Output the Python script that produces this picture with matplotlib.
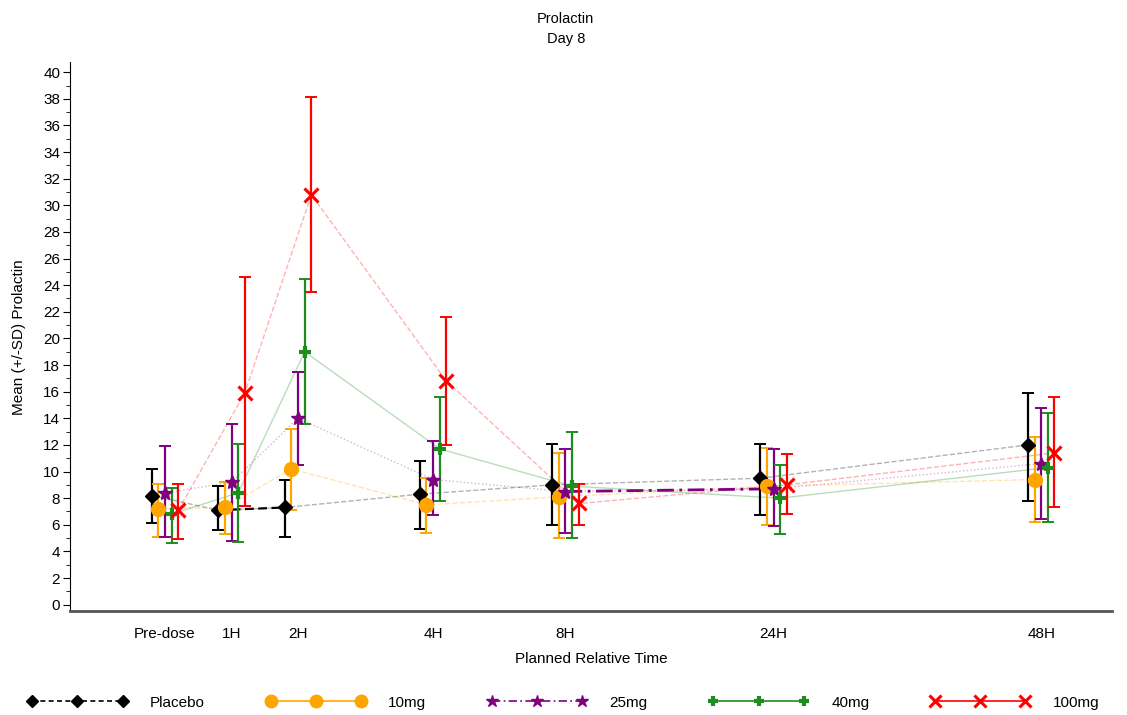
import numpy as np
import matplotlib.pyplot as plt
from matplotlib.ticker import MultipleLocator

plt.rcParams['font.family'] = ['Liberation Sans', 'DejaVu Sans']

time_labels = ['Pre-dose', '1H', '2H', '4H', '8H', '24H', '48H']
time_pos = [0, 1, 2, 4.03, 6.02, 9.15, 13.17]
    # x placement of the planned times on the axis

groups = ['Placebo', '10mg', '25mg', '40mg', '100mg']

mean_placebo = [8.2, 7.1, 7.3, 8.3, 9.0, 9.5, 12.0]
upper_placebo = [10.2, 8.9, 9.4, 10.8, 12.1, 12.1, 15.9]
lower_placebo = [6.1, 5.6, 5.1, 5.7, 6.0, 6.7, 7.8]

mean_10mg = [7.2, 7.3, 10.2, 7.5, 8.1, 8.9, 9.4]
upper_10mg = [9.1, 9.2, 13.2, 9.5, 11.4, 11.8, 12.6]
lower_10mg = [5.1, 5.3, 7.1, 5.4, 5.0, 6.0, 6.2]

mean_25mg = [8.4, 9.2, 14.0, 9.4, 8.5, 8.7, 10.6]
upper_25mg = [11.9, 13.6, 17.5, 12.3, 11.7, 11.7, 14.8]
lower_25mg = [5.1, 4.8, 10.5, 6.7, 5.4, 5.9, 6.4]

mean_40mg = [6.8, 8.4, 19.0, 11.7, 8.9, 8.0, 10.3]
upper_40mg = [8.8, 12.1, 24.5, 15.6, 13.0, 10.5, 14.4]
lower_40mg = [4.6, 4.7, 13.6, 7.8, 5.0, 5.3, 6.2]

mean_100mg = [7.1, 15.9, 30.8, 16.8, 7.6, 9.0, 11.4]
upper_100mg = [9.1, 24.6, 38.1, 21.6, 9.1, 11.3, 15.6]
lower_100mg = [4.9, 7.4, 23.5, 12.0, 6.0, 6.8, 7.3]

means = [mean_placebo, mean_10mg, mean_25mg, mean_40mg, mean_100mg]
uppers = [upper_placebo, upper_10mg, upper_25mg, upper_40mg, upper_100mg]
lowers = [lower_placebo, lower_10mg, lower_25mg, lower_40mg, lower_100mg]

colors = ['black', '#FFA500', '#800080', '#1E8C1E', '#FF0000']
markers = ['D', 'o', '*', '+', 'x']
msizes = [7, 10, 10, 8, 10]
mews = [1, 1, 1, 3, 2.2]
styles = ['--', '--', ':', '-', '--']
legend_styles = [(0, (3, 2)), '-', (0, (5, 2, 1, 2)), '-', '-']
offsets = [-0.2, -0.1, 0.0, 0.1, 0.2]

fig = plt.figure(figsize=(11.27, 7.15), dpi=100)
ax = fig.add_axes([0.062, 0.145, 0.925, 0.768])

handles = []
for i in range(5):
    x = np.array(time_pos) + offsets[i]
    m = np.array(means[i])
    err = [m - np.array(lowers[i]), np.array(uppers[i]) - m]
    ax.plot(x, m, linestyle=styles[i], color=colors[i], alpha=0.3, linewidth=1, zorder=1)
        # faint connecting lines between the means
    ax.errorbar(x, m, yerr=err, fmt='none', ecolor=colors[i], elinewidth=1.6,
                capsize=4, capthick=1.4, zorder=2)
    ax.plot(x, m, linestyle='none', marker=markers[i], markersize=msizes[i],
            color=colors[i], markeredgewidth=mews[i], zorder=3)
    h, = ax.plot([], [], linestyle=legend_styles[i], color=colors[i], marker=markers[i],
                 markersize=msizes[i] - 1, markeredgewidth=mews[i], linewidth=1.2)
    handles.append(h)

# bold segments that show up in the original output
ax.plot([time_pos[1] - 0.2, time_pos[2] - 0.2], [mean_placebo[1], mean_placebo[2]],
        color='black', linestyle=(0, (4, 2)), linewidth=1.6, zorder=1.5)
ax.plot([time_pos[4], time_pos[5]], [mean_25mg[4], mean_25mg[5]],
        color='#800080', linestyle=(0, (6, 2, 1, 2)), linewidth=2, zorder=1.5)

ax.set_xlim(-1.43, 14.24)
ax.set_ylim(-0.5, 40.75)
ax.set_xticks(time_pos)
ax.set_xticklabels(time_labels, fontsize=11)
ax.yaxis.set_major_locator(MultipleLocator(2))
ax.yaxis.set_minor_locator(MultipleLocator(1))
ax.tick_params(axis='y', which='major', length=5, labelsize=11, pad=2)
ax.tick_params(axis='y', which='minor', length=3)
ax.tick_params(axis='x', length=0, pad=11)
    # y ticks every 2 with labels, minor every 1

ax.spines['top'].set_visible(False)
ax.spines['right'].set_visible(False)
ax.spines['bottom'].set_color('#555555')
ax.spines['bottom'].set_linewidth(2)

ax.set_xlabel('Planned Relative Time', fontsize=11, labelpad=8)
ax.set_ylabel('Mean (+/-SD) Prolactin', fontsize=11, labelpad=12)
fig.text(0.502, 0.974, 'Prolactin', ha='center', va='center', fontsize=10.5)
fig.text(0.502, 0.946, 'Day 8', ha='center', va='center', fontsize=10.5)

fig.legend(handles, groups, loc='lower center', bbox_to_anchor=(0.5, -0.012), ncol=5,
           frameon=False, fontsize=11, numpoints=3, handlelength=6.5, handletextpad=1.5,
           columnspacing=4)

fig.savefig('out.png', dpi=100)
